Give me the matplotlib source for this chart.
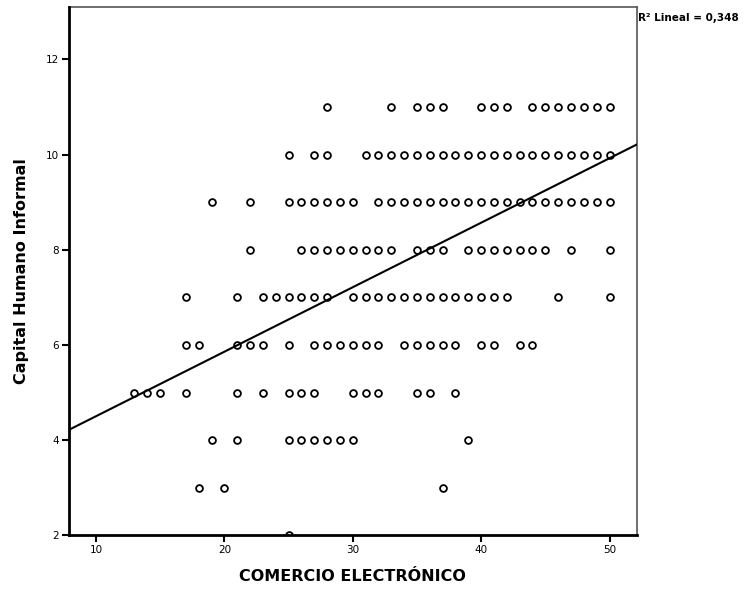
import numpy as np
import matplotlib
matplotlib.use("Agg")
import matplotlib.pyplot as plt

# Observed (COMERCIO ELECTRÓNICO, Capital Humano Informal) pairs, grouped by y level
rows = {
    11: [28, 33, 35, 36, 37, 40, 41, 42, 44, 45, 46, 47, 48, 49, 50],
    10: [25, 27, 28] + list(range(31, 51)),
    9: [19, 22, 25, 26, 27, 28, 29, 30] + list(range(32, 51)),
    8: [22, 26, 27, 28, 29, 30, 31, 32, 33, 35, 36, 37,
        39, 40, 41, 42, 43, 44, 45, 47, 50],
    7: [17, 21, 23, 24, 25, 26, 27, 28] + list(range(30, 43)) + [46, 50],
    6: [17, 18, 21, 22, 23, 25, 27, 28, 29, 30, 31, 32,
        34, 35, 36, 37, 38, 40, 41, 43, 44],
    5: [13, 14, 15, 17, 21, 23, 25, 26, 27, 30, 31, 32, 35, 36, 38],
    4: [19, 21, 25, 26, 27, 28, 29, 30, 39],
    3: [18, 20, 37],
    2: [25],
}

comercio = np.array([x for y, xs in rows.items() for x in xs], dtype=float)
capital = np.array([y for y, xs in rows.items() for x in xs], dtype=float)

# Linear fit line (intercept, slope) and its R²
fit_intercept = 3.15
fit_slope = 0.1355
r2_text = "R² Lineal = 0,348"

x_ticks = [10, 20, 30, 40, 50]
y_ticks = [2, 4, 6, 8, 10, 12]
x_lim = (7.9, 52.13)
y_lim = (2.0, 13.1)

fig = plt.figure(figsize=(7.51, 5.90), dpi=100)
ax = fig.add_axes([0.0919, 0.0924, 0.848 - 0.0919, 0.988 - 0.0924])

ax.scatter(comercio, capital, s=24, facecolors="white", edgecolors="black",
           linewidths=1.3, zorder=3)

xl = np.array(x_lim)
ax.plot(xl, fit_intercept + fit_slope * xl, color="black", lw=1.5, zorder=4)

ax.set_xlim(*x_lim)
ax.set_ylim(*y_lim)
ax.set_xticks(x_ticks)
ax.set_yticks(y_ticks)

for side in ("left", "bottom"):
    ax.spines[side].set_linewidth(2.0)
    ax.spines[side].set_color("black")
    ax.spines[side].set_zorder(5)
for side in ("top", "right"):
    ax.spines[side].set_linewidth(1.2)
    ax.spines[side].set_color("#555555")

ax.tick_params(axis="both", direction="out", length=5, width=1.5,
               labelsize=7.5, colors="black", pad=2)

ax.set_xlabel("COMERCIO ELECTRÓNICO", fontsize=11.5, fontweight="bold", labelpad=10)
ax.set_ylabel("Capital Humano Informal", fontsize=11.5, fontweight="bold", labelpad=12)

fig.text(0.850, 0.970, r2_text, fontsize=7.5, fontweight="bold", ha="left", va="center")

fig.savefig("out.png", dpi=100)
